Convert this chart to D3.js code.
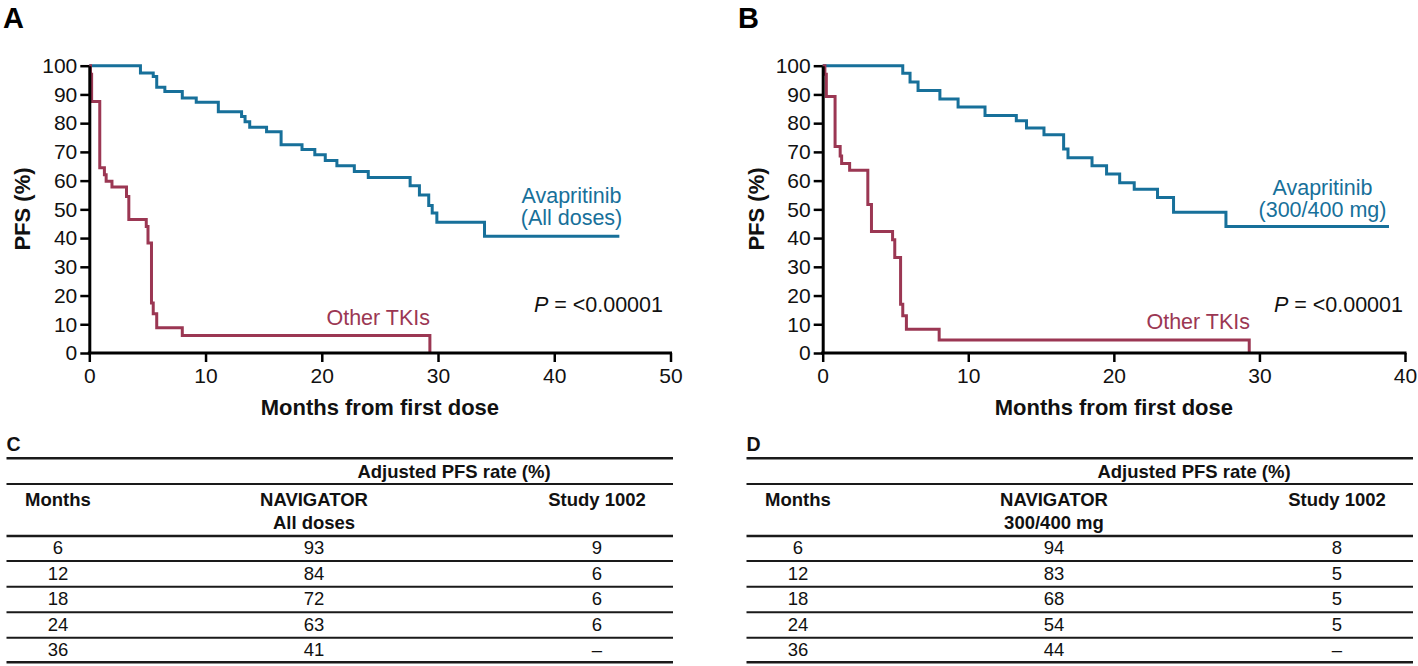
<!DOCTYPE html>
<html>
<head>
<meta charset="utf-8">
<script src="https://cdn.jsdelivr.net/npm/d3@7"></script>
<style>
  html, body { margin: 0; padding: 0; background: #fff; }
  svg { display: block; }
  text { font-family: "Liberation Sans", Arial, Helvetica, sans-serif; }
</style>
</head>
<body>
<svg id="chart" width="1418" height="666"></svg>
<script>
// ---------- Data ----------
// Panel A: Avapritinib (All doses) vs Other TKIs
const avaAllTime = [0, 4.4, 5.5, 5.8, 6.5, 8.0, 9.2, 11.1, 13.1, 13.4, 13.8, 15.25, 16.5, 18.3, 19.4, 20.3, 21.3, 22.8, 24.0, 27.6, 28.4, 29.2, 29.5, 29.9, 34.0, 45.6];
const avaAllPFS  = [100, 97.5, 96.2, 92.5, 91, 88.8, 87.3, 84, 82.3, 80.5, 78.6, 77, 72.5, 70.8, 69, 67, 65.2, 63.2, 61.1, 58.2, 55, 51.3, 48.7, 45.5, 40.6, 40.6];
const tkiATime   = [0, 0.1, 0.2, 0.9, 1.3, 1.45, 1.95, 3.2, 3.4, 4.9, 5.05, 5.35, 5.5, 5.8, 8.0, 29.3];
const tkiAPFS    = [100, 97, 87.5, 64.5, 62, 59.8, 57.8, 54.5, 46.5, 44, 38.3, 17.4, 13.7, 8.8, 6.1, 0];

// Panel B: Avapritinib (300/400 mg) vs Other TKIs
const ava300Time = [0, 5.5, 6.0, 6.55, 8.05, 9.3, 11.15, 13.3, 14.0, 15.2, 16.55, 16.85, 18.5, 19.5, 20.4, 21.4, 23.0, 24.1, 27.7, 38.9];
const ava300PFS  = [100, 97.4, 94.3, 91.4, 88.4, 85.6, 82.7, 80.8, 78.3, 76, 71, 68, 65.2, 62.3, 59.3, 57, 54.1, 49, 44, 44];
const tkiBTime   = [0, 0.15, 0.25, 0.85, 1.2, 1.3, 1.85, 3.1, 3.35, 4.8, 4.95, 5.35, 5.5, 5.75, 8.0, 29.3];
const tkiBPFS    = [100, 97, 89.3, 71.9, 68.6, 66, 63.6, 51.7, 42.3, 39.4, 33.2, 17, 13, 8.3, 4.5, 0];

// Axis ticks
const yTicks  = [0, 10, 20, 30, 40, 50, 60, 70, 80, 90, 100];
const xTicksA = [0, 10, 20, 30, 40, 50];
const xTicksB = [0, 10, 20, 30, 40];

// Tables C & D
const tableMonths = [6, 12, 18, 24, 36];
const navAllDoses = ["93", "84", "72", "63", "41"];
const study1002C  = ["9", "6", "6", "6", "–"];
const nav300400   = ["94", "83", "68", "54", "44"];
const study1002D  = ["8", "5", "5", "5", "–"];

// ---------- Drawing ----------
const BLUE = "#17709a";
const RED = "#9b3753";
const svg = d3.select("#chart");
svg.append("rect").attr("width", 1418).attr("height", 666).attr("fill", "#fff");

function zip(t, v) { return t.map((d, i) => [d, v[i]]); }

function drawKM(cfg) {
  const g = svg.append("g");
  const x = d3.scaleLinear().domain([0, cfg.xMax]).range([cfg.x0, cfg.x1]);
  const y = d3.scaleLinear().domain([0, 100]).range([353, 65.7]);

  // panel letter
  g.append("text").attr("x", cfg.letterX).attr("y", 28)
    .attr("font-size", 29).attr("font-weight", "bold").attr("fill", "#000").text(cfg.letter);

  // curves
  const line = d3.line().x(d => x(d[0])).y(d => y(d[1])).curve(d3.curveStepAfter);
  g.append("path").datum(zip(cfg.blueT, cfg.blueV))
    .attr("d", line).attr("fill", "none").attr("stroke", BLUE).attr("stroke-width", 3);
  g.append("path").datum(zip(cfg.redT, cfg.redV))
    .attr("d", line).attr("fill", "none").attr("stroke", RED).attr("stroke-width", 3);

  // axes
  const yAxis = g.append("g").attr("transform", `translate(${cfg.x0},0)`)
    .call(d3.axisLeft(y).tickValues(yTicks).tickSize(9).tickSizeOuter(0).tickPadding(3));
  const xAxis = g.append("g").attr("transform", "translate(0,353)")
    .call(d3.axisBottom(x).tickValues(cfg.xTicks).tickSize(9).tickSizeOuter(0).tickPadding(6));
  [yAxis, xAxis].forEach(a => {
    a.select(".domain").attr("stroke", "#000").attr("stroke-width", 3);
    a.selectAll(".tick line").attr("stroke", "#000").attr("stroke-width", 2.5);
    a.selectAll(".tick text").attr("font-size", 21).attr("fill", "#111")
      .attr("font-family", '"Liberation Sans", Arial, sans-serif');
  });
  // extend x domain to cover corner
  xAxis.select(".domain").attr("d", `M${cfg.x0 - 1.5},0H${cfg.x1 + 1.5}`);

  // axis titles
  g.append("text")
    .attr("transform", `translate(${cfg.x0 - 59},209) rotate(-90)`)
    .attr("text-anchor", "middle").attr("font-size", 22).attr("font-weight", "bold").attr("fill", "#111")
    .text("PFS (%)");
  g.append("text").attr("x", (cfg.x0 + cfg.x1) / 2).attr("y", 415)
    .attr("text-anchor", "middle").attr("font-size", 22).attr("font-weight", "bold").attr("fill", "#111")
    .text("Months from first dose");

  // annotations
  g.append("text").attr("x", cfg.avaX).attr("y", cfg.avaY1).attr("text-anchor", "middle")
    .attr("font-size", 21.5).attr("fill", BLUE).text("Avapritinib");
  g.append("text").attr("x", cfg.avaX).attr("y", cfg.avaY2).attr("text-anchor", "middle")
    .attr("font-size", 21.5).attr("fill", BLUE).text(cfg.avaSub);
  g.append("text").attr("x", cfg.tkiX).attr("y", cfg.tkiY).attr("text-anchor", "end")
    .attr("font-size", 21.5).attr("fill", RED).text("Other TKIs");
  const p = g.append("text").attr("x", cfg.pX).attr("y", 311.5).attr("text-anchor", "end")
    .attr("font-size", 21.5).attr("fill", "#111");
  p.append("tspan").attr("font-style", "italic").text("P");
  p.append("tspan").text(" = <0.00001");
}

drawKM({
  letter: "A", letterX: 3, x0: 89.3, x1: 670.5, xMax: 50, xTicks: xTicksA,
  blueT: avaAllTime, blueV: avaAllPFS, redT: tkiATime, redV: tkiAPFS,
  avaX: 571.5, avaY1: 203, avaY2: 225, avaSub: "(All doses)",
  tkiX: 430, tkiY: 325, pX: 663
});
drawKM({
  letter: "B", letterX: 738, x0: 822.7, x1: 1405, xMax: 40, xTicks: xTicksB,
  blueT: ava300Time, blueV: ava300PFS, redT: tkiBTime, redV: tkiBPFS,
  avaX: 1322.5, avaY1: 195, avaY2: 217, avaSub: "(300/400 mg)",
  tkiX: 1250, tkiY: 329, pX: 1403
});

function drawTable(cfg) {
  const g = svg.append("g").attr("transform", `translate(${cfg.dx},0)`);
  const L = 6.5, R = 673;
  const c1 = 58, c2 = 314, c3 = 597;
  g.append("text").attr("x", L).attr("y", 451).attr("font-size", 19.5).attr("font-weight", "bold")
    .attr("fill", "#111").text(cfg.letter);
  const hl = (yy, w) => g.append("line").attr("x1", L).attr("x2", R).attr("y1", yy).attr("y2", yy)
    .attr("stroke", "#1a1a1a").attr("stroke-width", w);
  hl(458.3, 2.6); hl(484, 2.2); hl(536, 2.6);
  const rowLines = [561, 586.7, 612.3, 637.7];
  rowLines.forEach(yy => hl(yy, 2));
  hl(662.3, 2.4);

  const txt = (x, y, s, bold) => g.append("text").attr("x", x).attr("y", y).attr("text-anchor", "middle")
    .attr("font-size", 18.5).attr("font-weight", bold ? "bold" : "normal").attr("fill", "#111").text(s);
  txt(454, 478.3, "Adjusted PFS rate (%)", true);
  txt(c1, 506, "Months", true);
  txt(c2, 506, "NAVIGATOR", true);
  txt(c2, 529, cfg.sub, true);
  txt(c3, 506, "Study 1002", true);
  const rowY = [554, 579.7, 605.3, 630.8, 656.3];
  tableMonths.forEach((m, i) => {
    txt(c1, rowY[i], String(m), false);
    txt(c2, rowY[i], cfg.nav[i], false);
    txt(c3, rowY[i], cfg.study[i], false);
  });
}

drawTable({ dx: 0, letter: "C", sub: "All doses", nav: navAllDoses, study: study1002C });
drawTable({ dx: 740, letter: "D", sub: "300/400 mg", nav: nav300400, study: study1002D });
</script>
</body>
</html>
